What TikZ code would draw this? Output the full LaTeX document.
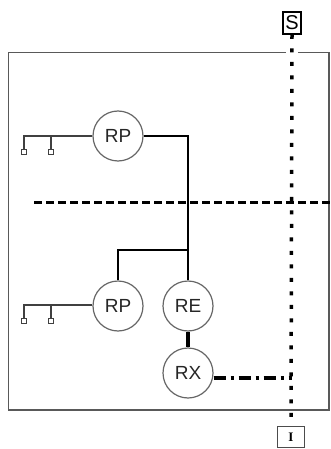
\documentclass[tikz,border=0pt]{standalone}
\usepackage{fontspec}
\setmainfont{Liberation Sans}
\newfontfamily\seriffont{Liberation Serif}
\begin{document}
\begin{tikzpicture}[x=1pt,y=-1pt,
  relay/.style={circle,draw=black!60,line width=1.2pt,minimum size=50pt,inner sep=0pt,
    font=\fontsize{19}{19}\selectfont,text=black!85},
  conn/.style={line width=2.4pt,black},
  thin/.style={line width=1.3pt,black!75},
  dotline/.style={line width=3.5pt,black,dash pattern=on 4pt off 9.5pt},
  dashline/.style={line width=3pt,black,dash pattern=on 8pt off 4pt},
  dashdot/.style={line width=3.5pt,black,dash pattern=on 12pt off 5pt on 3pt off 5pt},
  frame/.style={line width=1.6pt,black!65},
  tag/.style={draw,inner sep=0pt},
  pad/.style={draw=black!75,line width=1.2pt,minimum size=5pt,inner sep=0pt}
]
\useasboundingbox (0,0) rectangle (331,449);
% frame with gap at top for the signal line
\draw[frame] (298,52.7) -- (329,52.7) -- (329,410) -- (8.5,410) -- (8.5,52.7) -- (286,52.7);
% nodes
\node[relay] (rp1) at (118,136) {RP};
\node[relay] (rp2) at (118,306) {RP};
\node[relay] (re) at (188,306) {RE};
\node[relay] (rx) at (188,373) {RX};
\node[tag,line width=1.8pt,minimum width=18pt,minimum height=22pt,font=\fontsize{20}{20}\selectfont] (s) at (292,23) {S};
\node[tag,draw=black!70,line width=1.5pt,minimum width=27pt,minimum height=21pt,font=\seriffont\bfseries\fontsize{13}{13}\selectfont] (i) at (291,437) {I};
% dashed separator
\coordinate (dl) at (34,202);
\coordinate (dr) at (331,202);
\draw[dashline] (dl) -- (dr);
% signal line
\draw[dotline] (s.south) -- (i.north);
% connections
\coordinate (j) at (188,250);
\draw[conn] (rp1.east) -| (re.north);
\draw[conn] (j) -| (rp2.north);
\draw[line width=3.5pt] (re.south) -- (rx.north);
\coordinate (rxe) at (292,378);
\draw[dashdot] (rx.east |- rxe) -- (rxe);
% antennas
\foreach \r/\y in {rp1/136,rp2/305}{
  \coordinate (a1\r) at (24,\y);
  \coordinate (a2\r) at (51,\y);
  \draw[thin] (\r.west |- a1\r) -- (a1\r) -- ++(0,13) node[pad,anchor=north] {};
  \draw[thin] (a2\r) -- ++(0,13) node[pad,anchor=north] {};
}
\end{tikzpicture}
\end{document}
